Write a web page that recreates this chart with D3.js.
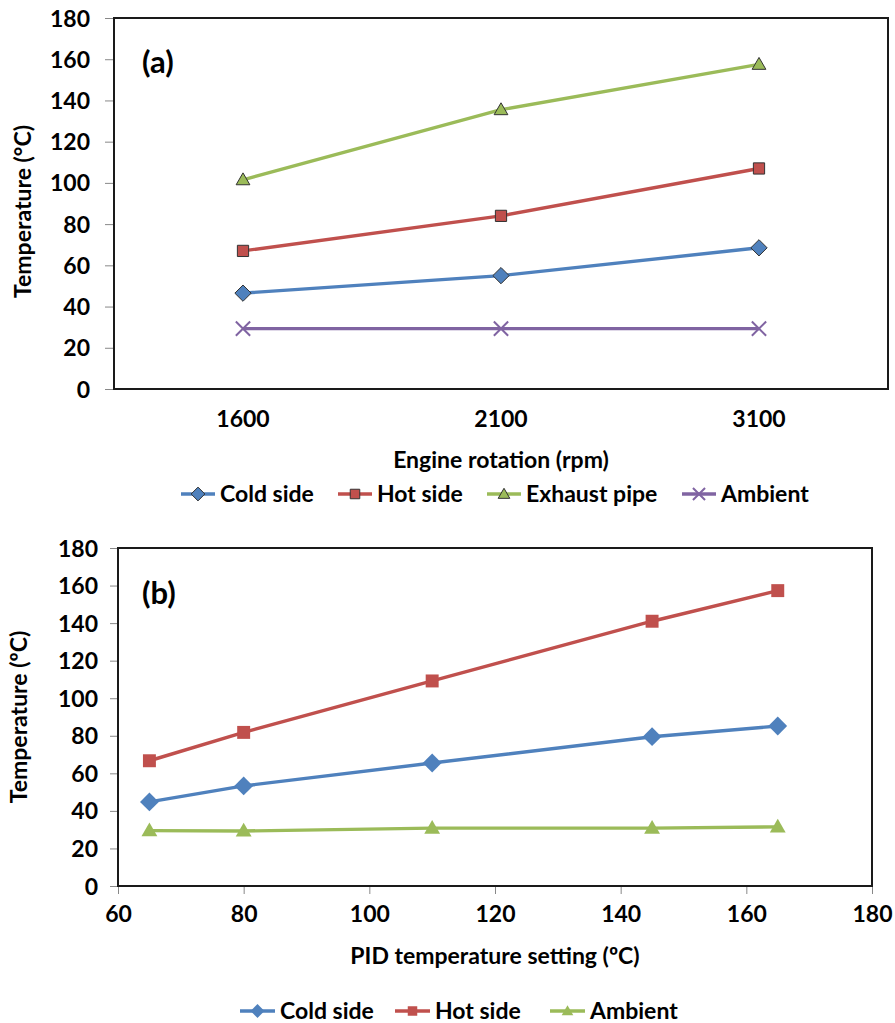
<!DOCTYPE html>
<html><head><meta charset="utf-8">
<script src="https://cdn.jsdelivr.net/npm/d3@7"></script>
<style>
html,body{margin:0;padding:0;background:#fff;}
svg text{font-family:Lato,"Open Sans",sans-serif;font-weight:bold;fill:#000;}
</style></head>
<body>
<svg id="c" width="895" height="1023"></svg>
<script>
// ---- Chart (a) data ----
const rpmCategories = ["1600", "2100", "3100"];
const aColdSide = [46.5, 55, 68.5];
const aHotSide = [67, 84, 107];
const aExhaustPipe = [101.5, 135.5, 157.5];
const aAmbient = [29.3, 29.3, 29.3];
const aYTicks = [0, 20, 40, 60, 80, 100, 120, 140, 160, 180];

// ---- Chart (b) data ----
const pidSettings = [65, 80, 110, 145, 165];
const bColdSide = [44.8, 53.3, 65.5, 79.5, 85.2];
const bHotSide = [66.7, 81.8, 109.2, 141, 157.3];
const bAmbient = [29.5, 29.3, 30.8, 30.8, 31.5];
const bXTicks = [60, 80, 100, 120, 140, 160, 180];
const bYTicks = [0, 20, 40, 60, 80, 100, 120, 140, 160, 180];

const C = {blue:"#4F81BD", red:"#C0504D", green:"#9BBB59", purple:"#8064A2"};
const FS = "23px";
const svg = d3.select("#c");

function marker(g, type, x, y, fill, stroke, size){
  if(type==="x"){
    const s=size*0.55;
    g.append("path").attr("d",`M${x-s},${y-s}L${x+s},${y+s}M${x-s},${y+s}L${x+s},${y-s}`)
      .attr("stroke",fill).attr("stroke-width",2).attr("fill","none");
    return;
  }
  const symType = type==="diamond"?d3.symbolDiamond2:type==="square"?d3.symbolSquare2:d3.symbolTriangle2;
  const area = type==="diamond"? size*size*1.0 : type==="square"? size*size*0.95 : size*size*0.8;
  const p=g.append("path").attr("d",d3.symbol().type(symType).size(area)())
    .attr("transform",`translate(${x},${y + (type==="triangle"?1:0)})`)
    .attr("fill",fill);
  if(stroke) p.attr("stroke",stroke).attr("stroke-width",1);
  else p.attr("stroke","none");
}

// ================= Chart (a) =================
{
  const L=114,R=888,T=18,B=389;
  const x=d3.scaleBand().domain(rpmCategories).range([L,R]);
  const y=d3.scaleLinear().domain([0,180]).range([B,T]);
  const g=svg.append("g");
  const ya=g.append("g").attr("transform",`translate(${L},0)`)
    .call(d3.axisLeft(y).tickValues(aYTicks).tickSize(9).tickPadding(15));
  ya.select(".domain").remove();
  ya.selectAll(".tick line").attr("stroke","#888").attr("stroke-width",1);
  ya.selectAll(".tick text").style("font-size",FS).attr("dy","0.35em");
  const xa=g.append("g").attr("transform",`translate(0,${B})`)
    .call(d3.axisBottom(x).tickSize(0).tickPadding(22));
  xa.select(".domain").remove();
  xa.selectAll(".tick text").style("font-size",FS);
  g.append("rect").attr("x",L).attr("y",T).attr("width",R-L).attr("height",B-T)
    .attr("fill","none").attr("stroke","#1a1a1a").attr("stroke-width",2);
  g.append("text").attr("x",(L+R)/2).attr("y",468).attr("text-anchor","middle")
    .style("font-size",FS).text("Engine rotation (rpm)");
  g.append("text").attr("transform",`translate(31,${(T+B)/2+8}) rotate(-90)`).attr("text-anchor","middle")
    .style("font-size",FS).text("Temperature (°C)");
  g.append("text").attr("x",142).attr("y",73).style("font-size","31px").text("(a)");
  const series=[
    {name:"Cold side",vals:aColdSide,color:C.blue,m:"diamond"},
    {name:"Hot side",vals:aHotSide,color:C.red,m:"square"},
    {name:"Exhaust pipe",vals:aExhaustPipe,color:C.green,m:"triangle"},
    {name:"Ambient",vals:aAmbient,color:C.purple,m:"x"}
  ];
  const line=d3.line().x((d,i)=>x(rpmCategories[i])+x.bandwidth()/2).y(d=>y(d));
  series.forEach(s=>{
    g.append("path").attr("d",line(s.vals)).attr("fill","none")
      .attr("stroke",s.color).attr("stroke-width",3.4);
    s.vals.forEach((v,i)=>marker(g,s.m,x(rpmCategories[i])+x.bandwidth()/2,y(v),s.color,"#333",13));
  });
  const lx=[181,338,487,682], ly=494;
  series.forEach((s,i)=>{
    g.append("line").attr("x1",lx[i]).attr("x2",lx[i]+34).attr("y1",ly).attr("y2",ly)
      .attr("stroke",s.color).attr("stroke-width",3.4);
    marker(g,s.m,lx[i]+17,ly,s.color,"#333",11);
    g.append("text").attr("x",lx[i]+39).attr("y",ly).attr("dy","0.35em")
      .style("font-size",FS).text(s.name);
  });
}

// ================= Chart (b) =================
{
  const L=118,R=872,T=548,B=886;
  const x=d3.scaleLinear().domain([60,180]).range([L,R]);
  const y=d3.scaleLinear().domain([0,180]).range([B,T]);
  const g=svg.append("g");
  const ya=g.append("g").attr("transform",`translate(${L},0)`)
    .call(d3.axisLeft(y).tickValues(bYTicks).tickSize(8).tickPadding(12));
  ya.select(".domain").remove();
  ya.selectAll(".tick line").attr("stroke","#888");
  ya.selectAll(".tick text").style("font-size",FS).attr("dy","0.35em");
  const xa=g.append("g").attr("transform",`translate(0,${B})`)
    .call(d3.axisBottom(x).tickValues(bXTicks).tickSize(8).tickPadding(12));
  xa.select(".domain").remove();
  xa.selectAll(".tick line").attr("stroke","#888");
  xa.selectAll(".tick text").style("font-size",FS);
  g.append("rect").attr("x",L).attr("y",T).attr("width",R-L).attr("height",B-T)
    .attr("fill","none").attr("stroke","#1a1a1a").attr("stroke-width",2);
  g.append("text").attr("x",(L+R)/2).attr("y",964).attr("text-anchor","middle")
    .style("font-size",FS).text("PID temperature setting (ºC)");
  g.append("text").attr("transform",`translate(27,${(T+B)/2}) rotate(-90)`).attr("text-anchor","middle")
    .style("font-size",FS).text("Temperature (ºC)");
  g.append("text").attr("x",142).attr("y",604).style("font-size","31px").text("(b)");
  const series=[
    {name:"Cold side",vals:bColdSide,color:C.blue,m:"diamond"},
    {name:"Hot side",vals:bHotSide,color:C.red,m:"square"},
    {name:"Ambient",vals:bAmbient,color:C.green,m:"triangle"}
  ];
  const line=d3.line().x((d,i)=>x(pidSettings[i])).y(d=>y(d));
  series.forEach(s=>{
    g.append("path").attr("d",line(s.vals)).attr("fill","none")
      .attr("stroke",s.color).attr("stroke-width",3.4);
    s.vals.forEach((v,i)=>marker(g,s.m,x(pidSettings[i]),y(v),s.color,null,15));
  });
  const lx=[240,395,550], ly=1011;
  series.forEach((s,i)=>{
    g.append("line").attr("x1",lx[i]).attr("x2",lx[i]+35).attr("y1",ly).attr("y2",ly)
      .attr("stroke",s.color).attr("stroke-width",3.4);
    marker(g,s.m,lx[i]+17.5,ly,s.color,null,11);
    g.append("text").attr("x",lx[i]+40).attr("y",ly).attr("dy","0.35em")
      .style("font-size",FS).text(s.name);
  });
}
</script>
</body></html>
